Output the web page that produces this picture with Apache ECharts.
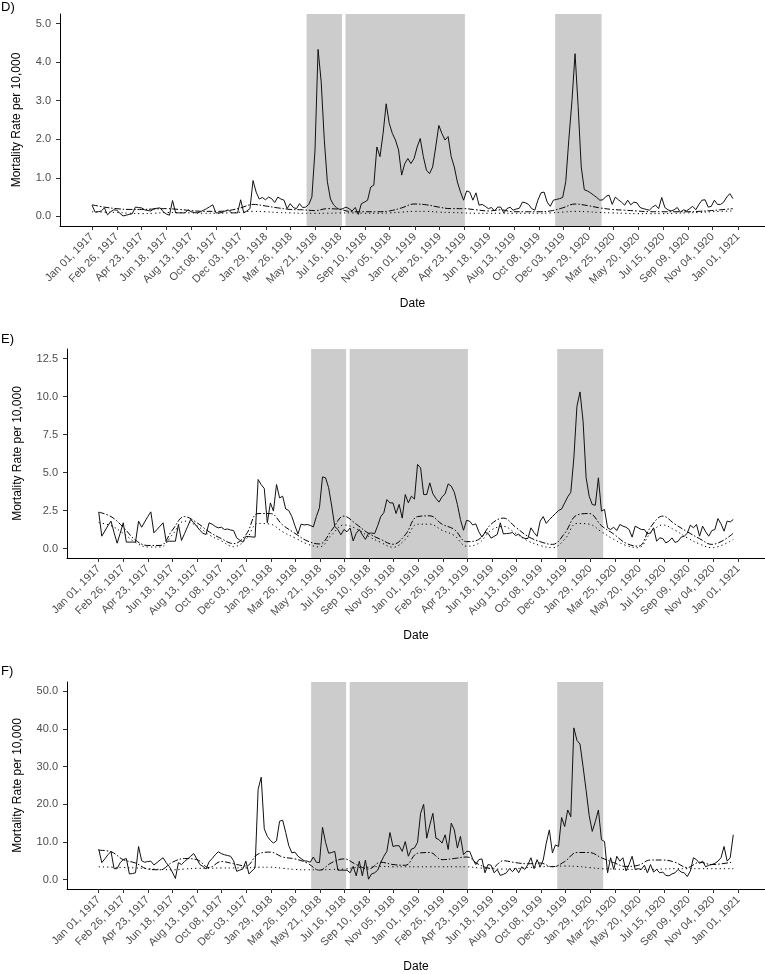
<!DOCTYPE html>
<html>
<head>
<meta charset="utf-8">
<script src="https://cdn.jsdelivr.net/npm/echarts@6/dist/echarts.min.js"></script>
<style>
html,body{margin:0;padding:0;background:#fff;}
#chart{width:765px;height:974px;}
</style>
</head>
<body>
<div id="chart"></div>
<script>
// ---------- DATA ----------
const startDate = '1917-01-01';           // first weekly observation
const tickDates = ['1917-01-01','1917-02-26','1917-04-23','1917-06-18','1917-08-13','1917-10-08','1917-12-03',
  '1918-01-29','1918-03-26','1918-05-21','1918-07-16','1918-09-10','1918-11-05',
  '1919-01-01','1919-02-26','1919-04-23','1919-06-18','1919-08-13','1919-10-08','1919-12-03',
  '1920-01-29','1920-03-25','1920-05-20','1920-07-15','1920-09-09','1920-11-04','1921-01-01'];
const shadePeriods = [['1918-05-01','1918-07-20'],['1918-07-28','1919-04-24'],['1919-11-14','1920-02-27']];

const dYTicks = [0, 1, 2, 3, 4, 5];
const eYTicks = [0, 2.5, 5, 7.5, 10, 12.5];
const fYTicks = [0, 10, 20, 30, 40, 50];

// observed weekly mortality (solid)
const dObserved = [
0.29,0.11,0.12,0.14,0.22,0.04,0.12,0.17,0.16,0.08,
0.01,0.03,0.05,0.07,0.24,0.23,0.22,0.17,0.15,0.14,
0.20,0.21,0.22,0.12,0.06,0.03,0.41,0.09,0.09,0.09,
0.09,0.17,0.12,0.10,0.09,0.12,0.16,0.20,0.25,0.30,
0.09,0.09,0.10,0.14,0.17,0.09,0.09,0.09,0.43,0.09,
0.14,0.20,0.93,0.63,0.45,0.49,0.43,0.50,0.46,0.36,
0.50,0.45,0.42,0.20,0.33,0.23,0.20,0.33,0.23,0.24,
0.31,0.50,1.70,4.33,3.50,2.00,0.90,0.45,0.30,0.22,
0.18,0.20,0.24,0.20,0.14,0.23,0.05,0.33,0.37,0.42,
0.76,0.81,1.80,1.55,2.15,2.92,2.41,2.15,1.98,1.72,
1.07,1.37,1.50,1.37,1.50,1.80,2.02,1.55,1.20,1.11,
1.28,1.80,2.36,2.15,1.98,2.07,1.55,1.28,0.89,0.63,
0.42,0.66,0.63,0.42,0.61,0.29,0.31,0.26,0.20,0.23,
0.14,0.24,0.24,0.09,0.20,0.24,0.16,0.19,0.21,0.37,
0.35,0.31,0.20,0.16,0.42,0.61,0.63,0.37,0.26,0.42,
0.44,0.46,0.49,0.90,2.00,3.00,4.22,2.85,1.28,0.69,
0.66,0.61,0.55,0.49,0.42,0.43,0.52,0.55,0.31,0.50,
0.43,0.37,0.29,0.42,0.30,0.37,0.35,0.23,0.20,0.18,
0.16,0.24,0.29,0.20,0.49,0.23,0.17,0.14,0.17,0.23,
0.11,0.17,0.14,0.20,0.26,0.17,0.31,0.42,0.43,0.24,
0.26,0.42,0.31,0.31,0.37,0.50,0.59,0.46];
const eObserved = [
2.39,0.81,1.15,1.50,1.80,1.05,0.35,1.00,1.69,0.42,
0.42,0.42,0.42,1.80,1.40,1.75,2.10,2.41,1.03,1.25,
1.47,1.69,0.48,0.48,0.48,0.48,1.58,0.53,0.98,1.45,
1.91,1.70,1.45,1.20,1.00,0.92,1.69,1.60,1.45,1.36,
1.40,1.25,1.28,1.22,1.18,0.70,0.55,0.42,0.80,0.78,
0.76,0.75,4.54,4.20,3.95,1.69,3.00,2.46,4.21,3.33,
3.44,2.60,2.50,2.10,1.50,0.96,1.60,1.55,1.58,1.52,
1.42,2.10,2.68,4.71,4.65,4.00,2.80,1.45,1.25,0.90,
1.25,1.10,1.35,0.50,1.00,1.25,0.90,0.60,1.00,1.02,
0.98,1.50,2.10,2.35,3.22,3.00,3.00,2.30,2.90,2.00,
3.55,3.00,3.44,3.25,5.53,5.30,3.55,3.55,4.32,3.60,
3.30,3.05,3.40,3.60,4.25,4.10,3.70,2.90,1.90,1.20,
1.85,1.80,1.55,1.62,1.10,0.75,1.05,1.00,0.68,0.80,
0.92,1.69,0.96,0.98,1.00,1.05,0.85,0.95,0.75,0.66,
0.66,1.36,1.05,0.80,1.80,2.10,1.65,1.90,2.10,2.30,
2.50,2.60,3.00,3.40,3.70,5.96,9.36,10.30,8.38,4.65,
3.44,2.89,2.85,4.65,2.46,2.57,1.36,1.25,1.40,1.18,
1.58,1.47,1.40,1.25,0.75,1.47,1.36,1.25,1.25,0.96,
1.03,1.36,0.48,0.70,0.66,0.37,0.48,0.70,0.40,0.48,
0.75,0.81,1.00,1.54,1.36,1.58,0.81,1.47,1.10,0.81,
1.18,1.25,1.97,1.62,1.14,1.80,1.75,1.91];
const fObserved = [
8.1,4.5,5.5,6.6,7.5,2.9,2.9,4.5,5.3,5.6,
1.5,1.6,1.8,8.8,5.0,4.6,4.8,4.9,3.9,4.5,
5.2,5.8,4.5,3.5,2.0,0.3,4.5,4.0,4.8,5.5,
6.2,6.9,5.5,4.0,3.5,2.8,4.7,5.6,6.6,7.4,
6.9,6.6,6.4,6.2,5.0,2.2,2.5,2.8,4.9,1.5,
2.3,3.1,24.0,27.2,13.5,11.5,10.4,9.7,10.3,15.5,
15.8,12.5,9.0,7.1,7.3,6.2,5.6,5.0,4.9,4.6,
6.0,4.6,4.5,13.9,9.9,7.0,7.2,7.5,2.5,2.5,
2.5,2.5,1.8,3.5,1.0,4.9,1.0,5.2,0.1,1.5,
1.8,2.5,4.5,6.2,7.5,12.5,8.8,9.0,9.0,7.5,
10.1,6.2,8.1,8.4,9.9,17.6,20.0,11.0,14.5,17.6,
11.0,10.6,9.7,11.9,8.0,15.0,13.2,8.4,11.5,6.6,
7.5,7.5,5.5,4.0,5.3,5.5,1.8,4.0,3.8,1.8,
2.7,1.1,1.4,1.8,2.9,2.1,3.1,1.8,3.4,2.7,
4.0,5.8,2.9,5.3,3.4,5.2,9.7,13.2,7.1,9.2,
8.8,16.5,14.1,18.5,16.7,40.3,37.0,36.0,30.0,23.7,
17.0,12.8,15.4,18.5,10.6,10.1,1.8,5.8,2.7,6.2,
4.9,5.8,2.3,4.0,6.2,2.7,2.9,2.7,3.8,1.8,
4.0,2.0,2.7,1.8,2.0,1.1,1.0,1.5,1.8,2.7,
2.0,1.8,0.8,2.3,5.8,5.3,4.3,4.9,3.4,3.8,
4.0,4.3,4.9,5.8,8.8,4.9,5.8,11.9];

// smooth seasonal curves, read every 4th week (weeks 0,4,...,204 and 207)
const dExpected = [0.30,0.24,0.20,0.18,0.18,0.19,0.20,0.18,0.15,0.13,0.13,0.15,0.22,0.31,0.27,0.22,0.18,0.17,0.15,0.20,
  0.18,0.12,0.12,0.12,0.14,0.22,0.32,0.30,0.24,0.20,0.20,0.17,0.14,0.17,0.12,0.12,0.12,0.14,0.22,0.32,
  0.28,0.22,0.18,0.16,0.14,0.12,0.12,0.12,0.12,0.13,0.15,0.20,0.27];
const dBaseline = [0.12,0.11,0.10,0.08,0.07,0.08,0.10,0.10,0.09,0.08,0.08,0.09,0.11,0.13,0.12,0.10,0.09,0.08,0.08,0.08,
  0.09,0.09,0.08,0.08,0.09,0.11,0.13,0.13,0.11,0.10,0.09,0.08,0.08,0.08,0.08,0.08,0.08,0.09,0.11,0.13,
  0.12,0.10,0.09,0.08,0.07,0.07,0.07,0.08,0.09,0.10,0.12,0.14,0.16];
const eExpected = [2.39,2.10,1.40,0.55,0.20,0.20,1.20,2.10,1.70,1.10,0.65,0.32,0.90,2.30,2.30,1.55,1.00,0.50,0.30,1.20,
  2.13,1.60,1.00,0.60,0.28,0.90,2.10,2.15,1.60,1.25,0.45,0.60,1.60,2.00,1.40,0.80,0.45,0.27,1.00,2.20,
  2.30,1.50,0.95,0.35,0.15,1.40,2.13,1.60,1.10,0.65,0.27,1.00,1.80];
const eBaseline = [1.70,1.50,1.00,0.40,0.10,0.10,0.90,1.80,1.50,0.90,0.50,0.12,0.60,1.65,1.60,1.10,0.70,0.30,0.10,0.90,
  1.55,1.30,0.80,0.40,0.08,0.60,1.60,1.60,1.20,0.85,0.15,0.35,1.20,1.45,1.00,0.50,0.20,0.05,0.60,1.65,
  1.60,1.10,0.60,0.20,0.05,1.00,1.55,1.20,0.70,0.30,0.05,0.60,1.15];
const fExpected = [7.8,7.4,5.3,4.4,2.8,2.6,4.6,5.6,5.3,3.2,4.8,4.2,3.6,6.8,7.3,6.0,5.5,4.4,2.5,4.5,
  5.5,4.0,2.8,4.6,4.0,3.8,7.0,7.2,5.3,5.6,6.0,4.0,3.0,5.0,4.5,4.2,4.4,3.4,4.8,7.2,
  7.2,5.8,4.5,3.5,3.8,5.2,5.2,4.6,3.2,4.6,4.0,4.7,6.4];
const fBaseline = [3.4,3.3,3.2,3.1,2.9,2.7,2.6,2.8,3.0,3.0,3.1,3.1,3.1,3.3,3.3,3.0,2.7,2.6,2.6,2.7,
  2.8,3.2,3.3,3.5,3.4,3.4,3.4,3.4,3.4,3.4,3.4,3.1,2.9,2.8,2.9,3.2,3.4,3.5,3.6,3.5,
  3.2,2.9,2.8,2.7,2.7,2.7,2.8,2.9,2.9,2.9,2.9,2.9,2.9];

// ---------- HELPERS ----------
const FONT = '"Liberation Sans", Arial, Helvetica, sans-serif';
const DAYMS = 86400000;
const t0 = Date.parse(startDate);
const toDay = s => Math.round((Date.parse(s) - t0) / DAYMS);
const MONTHS = ['Jan','Feb','Mar','Apr','May','Jun','Jul','Aug','Sep','Oct','Nov','Dec'];
const fmtDate = iso => { const p = iso.split('-'); return MONTHS[+p[1]-1] + ' ' + p[2] + ', ' + p[0]; };
const tickDays = tickDates.map(toDay);
const labelByDay = {};
tickDates.forEach((s, i) => { labelByDay[tickDays[i]] = fmtDate(s); });

const nWeeks = dObserved.length;
const lastDay = (nWeeks - 1) * 7;
const xPad = 0.05 * lastDay;
const trendWeeks = [];
for (let w = 0; w < nWeeks - 4; w += 4) trendWeeks.push(w);
trendWeeks.push(nWeeks - 1);

const weekly = arr => arr.map((v, i) => [i * 7, v]);
const trend = arr => arr.map((v, i) => [trendWeeks[i] * 7, v]);

const panels = [
  {tag: 'D)', obs: dObserved, exp: dExpected, base: dBaseline, ticks: dYTicks, left: 60, top: 14, height: 212, yGap: 37, tagTop: 1},
  {tag: 'E)', obs: eObserved, exp: eExpected, base: eBaseline, ticks: eYTicks, left: 67, top: 349, height: 209, yGap: 43, tagTop: 333},
  {tag: 'F)', obs: fObserved, exp: fExpected, base: fBaseline, ticks: fYTicks, left: 67, top: 682, height: 210, yGap: 43, tagTop: 665}
];

const grids = [], xAxes = [], yAxes = [], series = [], graphics = [];
panels.forEach((p, i) => {
  const y0 = p.ticks[0], y1 = p.ticks[p.ticks.length - 1], yr = y1 - y0;
  grids.push({left: p.left, right: 0, top: p.top, height: p.height, containLabel: false});
  xAxes.push({
    type: 'value', gridIndex: i, min: -xPad, max: lastDay + xPad,
    name: 'Date', nameLocation: 'middle', nameGap: 72,
    nameTextStyle: {fontFamily: FONT, fontSize: 12, color: '#000'},
    axisLine: {show: true, onZero: false, lineStyle: {color: '#000', width: 1}},
    axisTick: {show: true, customValues: tickDays, length: 4, lineStyle: {color: '#333', width: 1}},
    axisLabel: {customValues: tickDays, rotate: 45, margin: 9, fontFamily: FONT, fontSize: 11, color: '#4d4d4d',
      formatter: v => labelByDay[v] || ''},
    splitLine: {show: false}
  });
  yAxes.push({
    type: 'value', gridIndex: i, min: y0 - 0.05 * yr, max: y1 + 0.05 * yr,
    name: 'Mortality Rate per 10,000', nameLocation: 'middle', nameGap: p.yGap, nameRotate: 90,
    nameTextStyle: {fontFamily: FONT, fontSize: 12, color: '#000'},
    axisLine: {show: true, onZero: false, lineStyle: {color: '#000', width: 1}},
    axisTick: {show: true, customValues: p.ticks, length: 4, lineStyle: {color: '#333', width: 1}},
    axisLabel: {customValues: p.ticks, margin: 9, fontFamily: FONT, fontSize: 11, color: '#4d4d4d',
      formatter: v => v.toFixed(1)},
    splitLine: {show: false}
  });
  series.push({
    type: 'line', xAxisIndex: i, yAxisIndex: i, data: [], silent: true, z: 1,
    markArea: {silent: true, itemStyle: {color: '#cccccc', borderWidth: 0},
      data: shadePeriods.map(s => [{xAxis: toDay(s[0])}, {xAxis: toDay(s[1])}])}
  });
  series.push({
    type: 'line', xAxisIndex: i, yAxisIndex: i, data: trend(p.base), smooth: 0.4, showSymbol: false, z: 3,
    lineStyle: {color: '#000', width: 1, type: [1.2, 3]}
  });
  series.push({
    type: 'line', xAxisIndex: i, yAxisIndex: i, data: trend(p.exp), smooth: 0.4, showSymbol: false, z: 3,
    lineStyle: {color: '#000', width: 1, type: [6, 2, 1.5, 2]}
  });
  series.push({
    type: 'line', xAxisIndex: i, yAxisIndex: i, data: weekly(p.obs), showSymbol: false, z: 4,
    lineStyle: {color: '#111', width: 1, type: 'solid'}
  });
  graphics.push({type: 'text', left: 1, top: p.tagTop,
    style: {text: p.tag, fontFamily: FONT, fontSize: 13, fill: '#000'}});
});

const chart = echarts.init(document.getElementById('chart'), null, {renderer: 'canvas'});
chart.setOption({
  animation: false,
  backgroundColor: '#fff',
  grid: grids, xAxis: xAxes, yAxis: yAxes, series: series, graphic: graphics,
  tooltip: {show: false}
});
</script>
</body>
</html>
